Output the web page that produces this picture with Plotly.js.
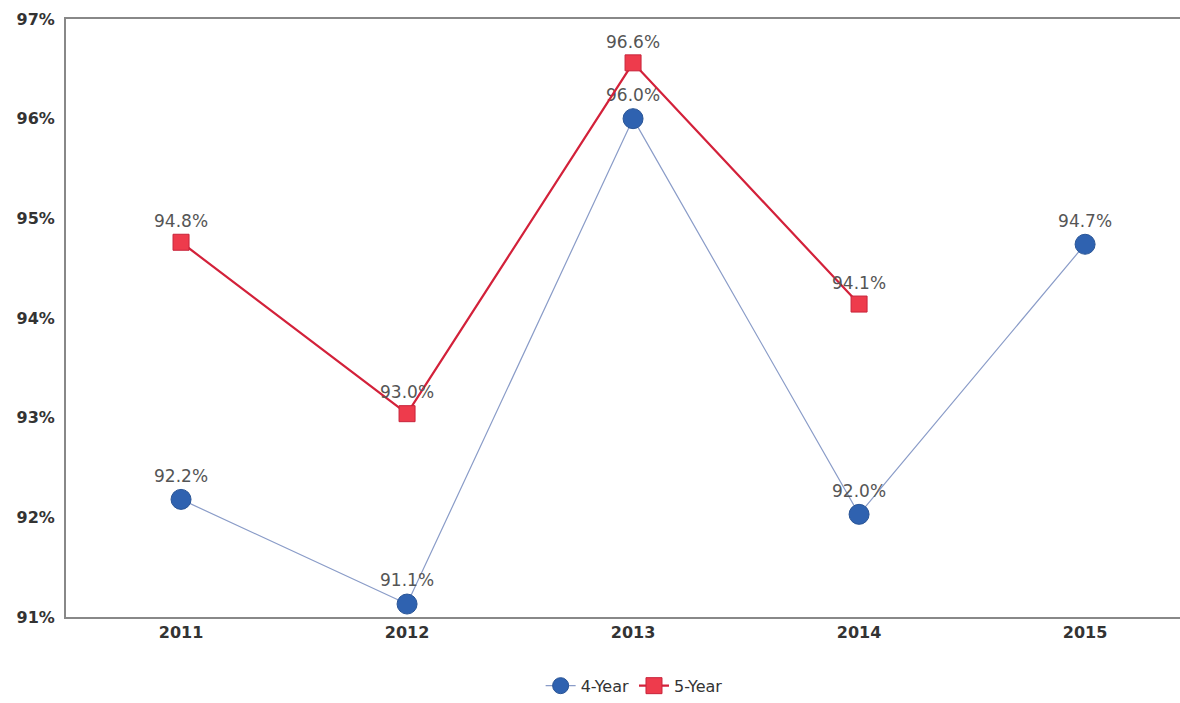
<!DOCTYPE html>
<html>
<head>
<meta charset="utf-8">
<script src="https://cdn.plot.ly/plotly-3.0.1.min.js"></script>
<style>html,body{margin:0;padding:0;background:#fff;}#chart{width:1180px;height:703px;}</style>
</head>
<body>
<div id="chart"></div>
<script>
const years = ['2011', '2012', '2013', '2014', '2015'];
const fourYear = [92.18, 91.13, 96.0, 92.03, 94.74];
const fiveYear = [94.76, 93.04, 96.56, 94.14, null];
const yTickVals = [91, 92, 93, 94, 95, 96, 97];
const yTickText = ['91%', '92%', '93%', '94%', '95%', '96%', '97%'];

const labelFont = {family: 'Verdana, "DejaVu Sans", sans-serif', size: 17, color: '#555555'};

const traces = [
  {
    x: years, y: fourYear, name: '4-Year', type: 'scatter', mode: 'lines+markers+text',
    line: {color: '#8a9cc8', width: 1.2},
    marker: {symbol: 'circle', size: 20, color: '#2f62b0', line: {color: '#2a5596', width: 1}},
    texttemplate: '%{y:.1f}%', textposition: 'top center', textfont: labelFont,
    cliponaxis: false
  },
  {
    x: years, y: fiveYear, name: '5-Year', type: 'scatter', mode: 'lines+markers+text',
    line: {color: '#d3213a', width: 2.2},
    marker: {symbol: 'square', size: 16, color: '#ee3b4c', line: {color: '#c8233a', width: 1}},
    texttemplate: '%{y:.1f}%', textposition: 'top center', textfont: labelFont,
    cliponaxis: false, connectgaps: false
  }
];

const tickFont = {family: 'Verdana, "DejaVu Sans", sans-serif', size: 16, color: '#333333', weight: 'bold'};

const layout = {
  width: 1180, height: 703,
  margin: {l: 66, r: 0, t: 19, b: 86},
  paper_bgcolor: '#ffffff', plot_bgcolor: '#ffffff',
  showlegend: true,
  legend: {orientation: 'h', x: 0.51, xanchor: 'center', y: -0.115, yanchor: 'middle',
    font: {family: 'Verdana, "DejaVu Sans", sans-serif', size: 16, color: '#333333'},
    itemwidth: 30, tracegroupgap: 0},
  xaxis: {
    type: 'category', range: [-0.509, 4.42],
    showgrid: false, zeroline: false,
    showline: true, linecolor: '#888888', linewidth: 2, mirror: true,
    ticks: '', tickfont: tickFont, automargin: false
  },
  yaxis: {
    range: [91, 97], tickvals: yTickVals, ticktext: yTickText,
    showgrid: false, zeroline: false,
    showline: true, linecolor: '#888888', linewidth: 2,
    ticks: '', tickfont: tickFont, ticklabelstandoff: 6, automargin: false
  }
};

Plotly.newPlot('chart', traces, layout, {displayModeBar: false, staticPlot: true});
</script>
</body>
</html>
